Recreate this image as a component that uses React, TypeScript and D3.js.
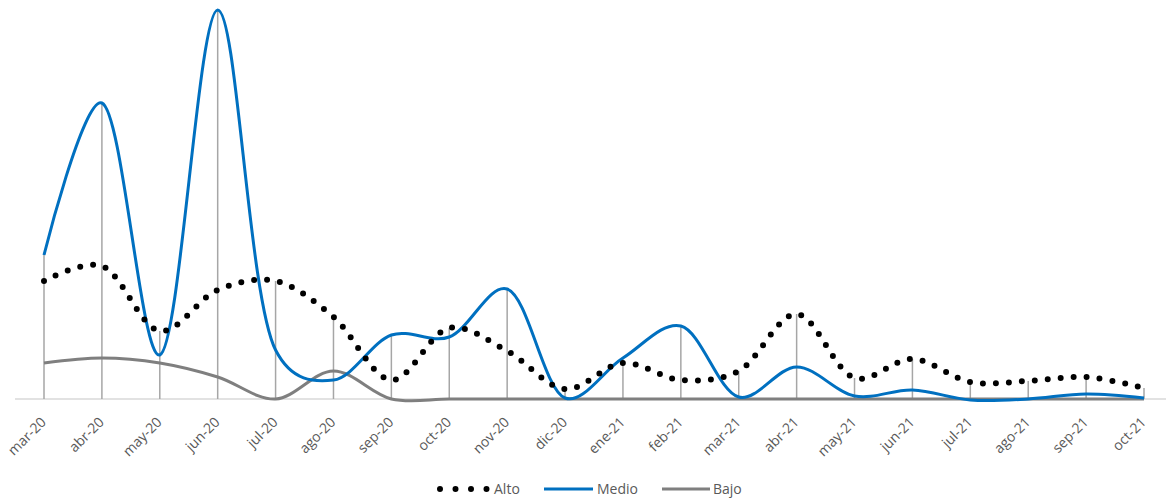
import { useEffect, useRef } from "react";
import * as d3 from "d3";

const months = [
  "mar-20", "abr-20", "may-20", "jun-20", "jul-20", "ago-20", "sep-20",
  "oct-20", "nov-20", "dic-20", "ene-21", "feb-21", "mar-21", "abr-21",
  "may-21", "jun-21", "jul-21", "ago-21", "sep-21", "oct-21",
];

const alto = [118, 133, 68, 109, 118, 82, 19, 71, 48, 10, 36, 19, 28, 85, 21, 40, 17, 18, 22, 11];
const medio = [144, 296, 44, 389, 49, 19, 64, 62, 110, 1, 41, 73, 2, 32, 3, 9, -1, 0, 5, 1];
const bajo = [36, 41, 36, 22, 0, 28, 0, 0, 0, 0, 0, 0, 0, 0, 0, 0, 0, 0, 0, 0];

const seriesNames = ["Alto", "Medio", "Bajo"];

export default function App() {
  const svgRef = useRef<SVGSVGElement>(null);

  useEffect(() => {
    document.body.style.margin = "0";
    const width = 1166;
    const height = 499;
    const svg = d3.select(svgRef.current).attr("width", width).attr("height", height);
    svg.selectAll("*").remove();

    // scales
    const x = d3.scalePoint<string>().domain(months).range([44, 1144]);
    const y = d3.scaleLinear().domain([0, 389]).range([399, 10]);

    const line = d3
      .line<number>()
      .x((_, i) => x(months[i]) as number)
      .y((d) => y(d))
      .curve(d3.curveCatmullRom.alpha(0.3));

    // axis line
    svg
      .append("line")
      .attr("x1", 15)
      .attr("x2", width)
      .attr("y1", y(0))
      .attr("y2", y(0))
      .attr("stroke", "#d9d9d9")
      .attr("stroke-width", 1.5);

    // drop lines from the highest value
    svg
      .append("g")
      .selectAll("line")
      .data(months)
      .join("line")
      .attr("x1", (d) => x(d) as number)
      .attr("x2", (d) => x(d) as number)
      .attr("y1", (_, i) => y(Math.max(alto[i], medio[i], bajo[i])))
      .attr("y2", y(0))
      .attr("stroke", "#a6a6a6")
      .attr("stroke-width", 1.5);

    // series
    svg
      .append("path")
      .attr("d", line(bajo))
      .attr("fill", "none")
      .attr("stroke", "#7f7f7f")
      .attr("stroke-width", 3);

    svg
      .append("path")
      .attr("d", line(medio))
      .attr("fill", "none")
      .attr("stroke", "#0070c0")
      .attr("stroke-width", 3);

    svg
      .append("path")
      .attr("d", line(alto))
      .attr("fill", "none")
      .attr("stroke", "#000")
      .attr("stroke-width", 6)
      .attr("stroke-linecap", "round")
      .attr("stroke-dasharray", "0 13");

    // x labels
    svg
      .append("g")
      .selectAll("text")
      .data(months)
      .join("text")
      .attr("transform", (d) => `translate(${(x(d) as number) + 3},${y(0) + 24}) rotate(-45)`)
      .attr("text-anchor", "end")
      .attr("font-family", "Open Sans, sans-serif")
      .attr("font-size", 14)
      .attr("fill", "#595959")
      .text((d) => d);

    // legend
    const legend = svg.append("g").attr("font-family", "Open Sans, sans-serif").attr("font-size", 14).attr("fill", "#595959");
    const ly = 489;
    const items = [
      { name: seriesNames[0], x0: 440, x1: 488, tx: 494 },
      { name: seriesNames[1], x0: 544, x1: 593, tx: 597 },
      { name: seriesNames[2], x0: 662, x1: 710, tx: 713 },
    ];
    items.forEach((it, i) => {
      const l = legend
        .append("line")
        .attr("x1", it.x0)
        .attr("x2", it.x1)
        .attr("y1", ly)
        .attr("y2", ly)
        .attr("fill", "none");
      if (i === 0) {
        l.attr("stroke", "#000").attr("stroke-width", 6).attr("stroke-linecap", "round").attr("stroke-dasharray", "0 15.5");
      } else {
        l.attr("stroke", i === 1 ? "#0070c0" : "#7f7f7f").attr("stroke-width", 3);
      }
      legend
        .append("text")
        .attr("x", it.tx)
        .attr("y", ly + 5)
        .text(it.name);
    });
  }, []);

  return <svg ref={svgRef} style={{ display: "block" }}></svg>;
}
